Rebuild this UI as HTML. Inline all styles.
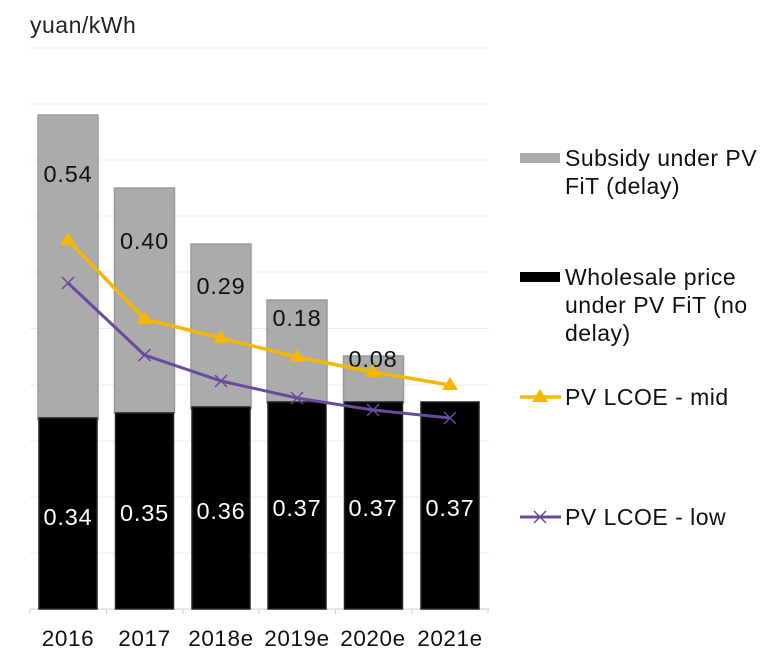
<!DOCTYPE html>
<html><head><meta charset="utf-8"><style>
body{margin:0;background:#fff;}
svg{display:block;font-family:"Liberation Sans",Arial,sans-serif;}
</style></head><body>
<svg width="783" height="668" viewBox="0 0 783 668">
<rect width="783" height="668" fill="#fff"/>
<text x="30" y="33" font-size="23" fill="#222" letter-spacing="0.5">yuan/kWh</text>
<g stroke="#ececec" stroke-width="1">
<line x1="30" x2="489" y1="48" y2="48"/><line x1="30" x2="489" y1="104" y2="104"/>
<line x1="30" x2="489" y1="160" y2="160"/><line x1="30" x2="489" y1="216" y2="216"/>
<line x1="30" x2="489" y1="272" y2="272"/><line x1="30" x2="489" y1="328.5" y2="328.5"/>
<line x1="30" x2="489" y1="385" y2="385"/><line x1="30" x2="489" y1="441" y2="441"/>
<line x1="30" x2="489" y1="497" y2="497"/><line x1="30" x2="489" y1="553" y2="553"/>
</g>
<line x1="30" x2="489" y1="609" y2="609" stroke="#cfcfcf"/>
<g stroke="#cfcfcf"><line x1="30" x2="30" y1="609" y2="614"/><line x1="106.5" x2="106.5" y1="609" y2="614"/><line x1="183" x2="183" y1="609" y2="614"/><line x1="259" x2="259" y1="609" y2="614"/><line x1="335.5" x2="335.5" y1="609" y2="614"/><line x1="412" x2="412" y1="609" y2="614"/><line x1="488" x2="488" y1="609" y2="614"/></g>
<g fill="#ababab" stroke="#9a9a9a" stroke-width="1.5">
<rect x="38" y="115" width="60" height="305"/>
<rect x="114.5" y="188" width="60" height="225"/>
<rect x="191" y="244" width="60" height="165"/>
<rect x="267" y="300" width="60" height="103"/>
<rect x="343.5" y="356" width="60" height="47"/>
</g>
<g fill="#000" stroke="#222" stroke-width="1.5">
<rect x="39" y="418" width="58" height="191"/>
<rect x="115.5" y="413" width="58" height="196"/>
<rect x="192" y="407" width="58" height="202"/>
<rect x="268" y="402" width="58" height="207"/>
<rect x="344.5" y="402" width="58" height="207"/>
<rect x="421" y="402" width="58" height="207"/>
</g>
<g font-size="23.5" text-anchor="middle" fill="#111" letter-spacing="0.8">
<text x="68" y="182">0.54</text><text x="144.5" y="249">0.40</text><text x="221" y="294">0.29</text><text x="297" y="326">0.18</text><text x="373" y="367">0.08</text>
</g>
<g font-size="23.5" text-anchor="middle" fill="#fff" letter-spacing="0.8">
<text x="68" y="525">0.34</text><text x="144.5" y="521">0.35</text><text x="221" y="519">0.36</text><text x="297" y="516">0.37</text><text x="373" y="516">0.37</text><text x="450" y="516">0.37</text>
</g>
<polyline points="68,240 144.5,319 221,338 297,357 373,372 450,385" fill="none" stroke="#f5b800" stroke-width="3.5"/>
<g fill="#f5b800">
<path d="M68,232 L76,245 L60,245Z"/><path d="M144.5,311 L152.5,324 L136.5,324Z"/><path d="M221,330 L229,343 L213,343Z"/><path d="M297,349 L305,362 L289,362Z"/><path d="M373,364 L381,377 L365,377Z"/><path d="M450,377 L458,390 L442,390Z"/>
</g>
<polyline points="68,283 144.5,355 221,381 297,398 373,410 450,418" fill="none" stroke="#6a4a9c" stroke-width="3"/>
<g stroke="#6a4a9c" stroke-width="1.5">
<path d="M62,277 L74,289 M74,277 L62,289"/><path d="M138.5,349 L150.5,361 M150.5,349 L138.5,361"/><path d="M215,375 L227,387 M227,375 L215,387"/><path d="M291,392 L303,404 M303,392 L291,404"/><path d="M367,404 L379,416 M379,404 L367,416"/><path d="M444,412 L456,424 M456,412 L444,424"/>
</g>
<g font-size="22.5" text-anchor="middle" fill="#111" letter-spacing="0.6">
<text x="68" y="646">2016</text><text x="144.5" y="646">2017</text><text x="221" y="646">2018e</text><text x="297" y="646">2019e</text><text x="373" y="646">2020e</text><text x="450" y="646">2021e</text>
</g>
<rect x="520" y="153" width="40" height="10" fill="#ababab"/>
<rect x="520" y="272" width="40" height="10" fill="#000"/>
<line x1="520" x2="561" y1="397" y2="397" stroke="#f5b800" stroke-width="3.5"/>
<path d="M540,389 L548,402 L532,402Z" fill="#f5b800"/>
<line x1="520" x2="561" y1="517" y2="517" stroke="#6a4a9c" stroke-width="3"/>
<path d="M534,511 L546,523 M546,511 L534,523" stroke="#6a4a9c" stroke-width="1.5"/>
<g font-size="23" fill="#111" letter-spacing="0.5">
<text x="565" y="166">Subsidy under PV</text><text x="565" y="194">FiT (delay)</text>
<text x="565" y="285">Wholesale price</text><text x="565" y="313">under PV FiT (no</text><text x="565" y="341">delay)</text>
<text x="565" y="405">PV LCOE - mid</text>
<text x="565" y="525">PV LCOE - low</text>
</g>
</svg>
</body></html>
